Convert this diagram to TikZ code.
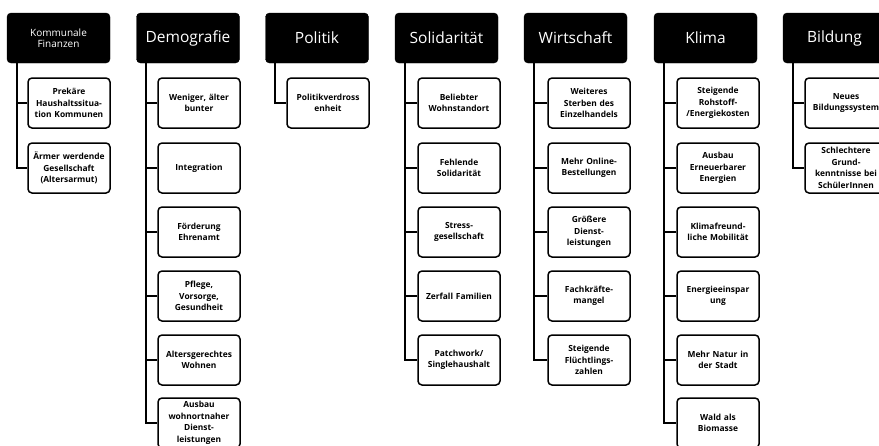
\documentclass[tikz,border=0pt]{standalone}
\usepackage{fontspec}
\setmainfont{Open Sans}
\begin{document}
\begin{tikzpicture}[x=1pt,y=-1pt,
  hdr/.style={draw=black,fill=black,rounded corners=4pt,minimum width=103pt,minimum height=50pt,text=white,font=\fontsize{15.5}{17}\selectfont,inner sep=1pt,align=center},
  item/.style={draw=black,line width=1.5pt,fill=white,rounded corners=4pt,minimum width=82pt,minimum height=50pt,text width=80pt,align=center,font=\bfseries\fontsize{8.4}{11.5}\selectfont,inner sep=1pt},
  trunk/.style={line width=1.8pt,black}]
\useasboundingbox (0,0) rectangle (879,445);
% column 1
\node[hdr,font=\fontsize{10}{11.5}\selectfont] (h1) at (58.5,38) {Kommunale\\Finanzen};
\node[item] (a1) at (69,103) {Prekäre\\Haushaltssitua-\\tion Kommunen};
\node[item] (a2) at (69,168) {Ärmer werdende\\Gesellschaft\\(Altersarmut)};
\coordinate (t1) at ([xshift=10pt]h1.south west);
\draw[trunk] (t1) |- (a2.west);
\draw[trunk] (a1.west) -- (a1.west -| t1);
% column 2
\node[hdr] (h2) at (188,38) {Demografie};
\node[item] (b1) at (199,103) {Weniger, älter\\bunter};
\node[item] (b2) at (199,168) {Integration};
\node[item] (b3) at (199,232) {Förderung\\Ehrenamt};
\node[item] (b4) at (199,296) {Pflege,\\Vorsorge,\\Gesundheit};
\node[item] (b5) at (199,360) {Altersgerechtes\\Wohnen};
\node[item] (b6) at (199,423) {Ausbau\\wohnortnaher\\Dienst-\\leistungen};
\coordinate (t2) at ([xshift=10pt]h2.south west);
\draw[trunk] (t2) |- (b6.west);
\foreach \n in {b1,b2,b3,b4,b5} \draw[trunk] (\n.west) -- (\n.west -| t2);
% column 3
\node[hdr] (h3) at (317,38) {Politik};
\node[item] (c1) at (328,103) {Politikverdross\\enheit};
\coordinate (t3) at ([xshift=10pt]h3.south west);
\draw[trunk] (t3) |- (c1.west);
% column 4
\node[hdr] (h4) at (446.5,38) {Solidarität};
\node[item] (d1) at (459,103) {Beliebter\\Wohnstandort};
\node[item] (d2) at (459,168) {Fehlende\\Solidarität};
\node[item] (d3) at (459,232) {Stress-\\gesellschaft};
\node[item] (d4) at (459,296) {Zerfall Familien};
\node[item] (d5) at (459,360) {Patchwork/\\Singlehaushalt};
\coordinate (t4) at ([xshift=10pt]h4.south west);
\draw[trunk] (t4) |- (d5.west);
\foreach \n in {d1,d2,d3,d4} \draw[trunk] (\n.west) -- (\n.west -| t4);
% column 5
\node[hdr] (h5) at (575.5,38) {Wirtschaft};
\node[item] (e1) at (589,103) {Weiteres\\Sterben des\\Einzelhandels};
\node[item] (e2) at (589,168) {Mehr Online-\\Bestellungen};
\node[item] (e3) at (589,232) {Größere\\Dienst-\\leistungen};
\node[item] (e4) at (589,296) {Fachkräfte-\\mangel};
\node[item] (e5) at (589,360) {Steigende\\Flüchtlings-\\zahlen};
\coordinate (t5) at ([xshift=10pt]h5.south west);
\draw[trunk] (t5) |- (e5.west);
\foreach \n in {e1,e2,e3,e4} \draw[trunk] (\n.west) -- (\n.west -| t5);
% column 6
\node[hdr] (h6) at (705.5,38) {Klima};
\node[item] (f1) at (718,103) {Steigende\\Rohstoff-\\/Energiekosten};
\node[item] (f2) at (718,168) {Ausbau\\Erneuerbarer\\Energien};
\node[item] (f3) at (718,232) {Klimafreund-\\liche Mobilität};
\node[item] (f4) at (718,296) {Energieeinspar\\ung};
\node[item] (f5) at (718,360) {Mehr Natur in\\der Stadt};
\node[item] (f6) at (718,423) {Wald als\\Biomasse};
\coordinate (t6) at ([xshift=10pt]h6.south west);
\draw[trunk] (t6) |- (f6.west);
\foreach \n in {f1,f2,f3,f4,f5} \draw[trunk] (\n.west) -- (\n.west -| t6);
% column 7
\node[hdr] (h7) at (834.5,38) {Bildung};
\node[item] (g1) at (846,103) {Neues\\Bildungssystem};
\node[item] (g2) at (846,168) {Schlechtere\\Grund-\\kenntnisse bei\\SchülerInnen};
\coordinate (t7) at ([xshift=10pt]h7.south west);
\draw[trunk] (t7) |- (g2.west);
\draw[trunk] (g1.west) -- (g1.west -| t7);
\end{tikzpicture}
\end{document}
